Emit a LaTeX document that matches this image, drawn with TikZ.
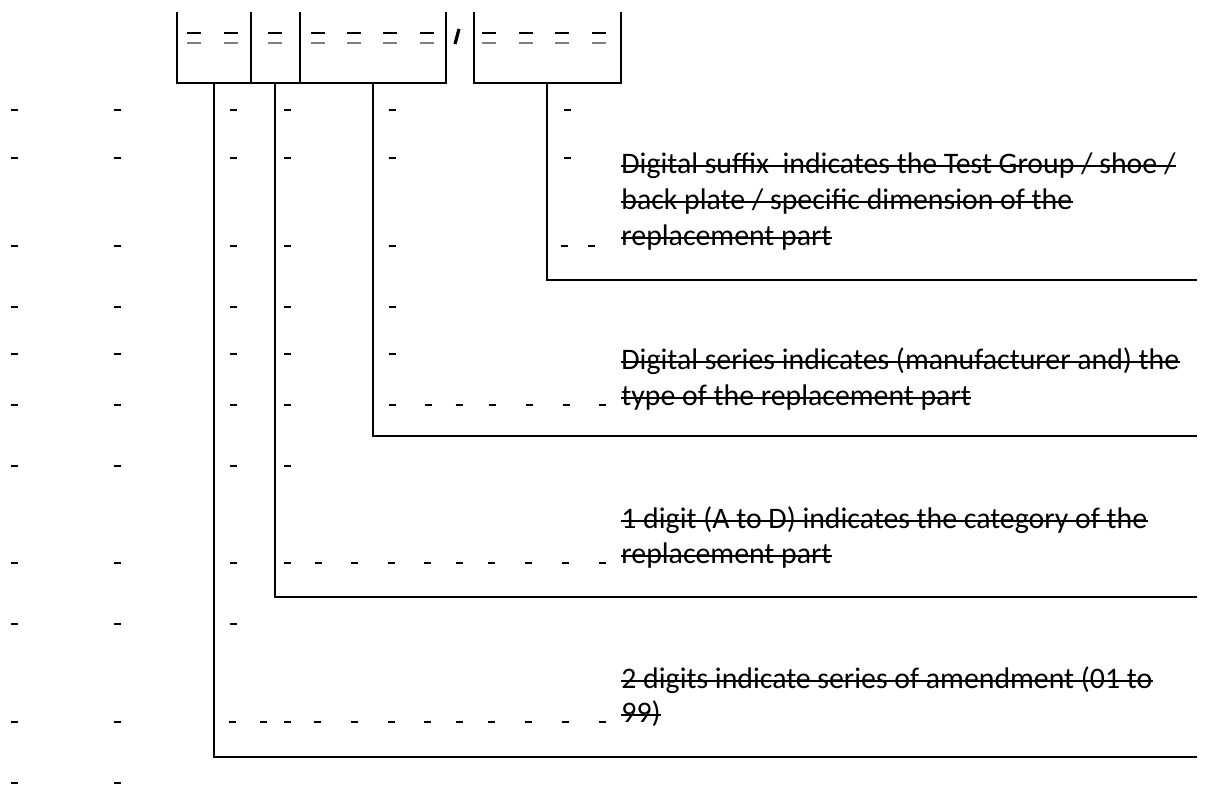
\documentclass[tikz,border=0pt]{standalone}
\usepackage{fontspec}
\setmainfont{Carlito}

\tikzset{
  frame/.style={line width=1pt},
  lead/.style={line width=1pt},
  blank/.style={line width=0.65pt},
  digit/.style={line width=0.7pt},
  strike/.style={line width=0.75pt},
  note/.style={anchor=base west, inner sep=0pt, font=\fontsize{14.9}{18}\selectfont},
}
\newcommand{\strikeout}[1]{\draw[strike] ([yshift=3.6pt]#1.base west) -- ([yshift=3.6pt]#1.base east);}

\begin{document}
\begin{tikzpicture}[x=0.5pt,y=-0.5pt]
\useasboundingbox (0,0) rectangle (1205,788);

% the number boxes
\draw[frame] (177,12) -- (177,83) -- (446,83) -- (446,12);
\draw[frame] (251,12) -- (251,83);
\draw[frame] (300,12) -- (300,83);
\draw[frame] (474,12) -- (474,83) -- (621,83) -- (621,12);
\draw[line width=1.6pt] (455,44) -- (459,29);

\foreach \x in {194,231,275,318,354,390,427,489,526,562,599} {
  \draw[digit] (\x-7,33) -- (\x+7,33);
  \draw[digit,gray] (\x-7,43) -- (\x+7,43);
}

% leaders
\coordinate (amd) at (214,83);
\coordinate (cat) at (275,83);
\coordinate (ser) at (373,83);
\coordinate (suf) at (547,83);
\coordinate (amdR) at (1197,757);
\coordinate (catR) at (1197,597);
\coordinate (serR) at (1197,436);
\coordinate (sufR) at (1197,280);
\draw[lead] (suf) |- (sufR);
\draw[lead] (ser) |- (serR);
\draw[lead] (cat) |- (catR);
\draw[lead] (amd) |- (amdR);

% empty struck-out spaces
\foreach \y/\xs in {110/{14,117,233,287,392,567}, 158/{14,117,233,287,392,567},
    246/{14,117,233,287,392,564,591}, 307/{14,117,233,287,392}, 354/{14,117,233,287,392},
    405/{14,117,233,287,392,428,459,492,529,566,602}, 466/{14,117,233,287},
    563/{14,117,233,287,318,354,391,427,459,491,528,565,602}, 624/{14,117,233},
    722/{14,117,232,263,287,317,354,391,427,459,491,528,565,602}, 783/{14,117}} {
  \foreach \x in \xs {
    \draw[blank] (\x-3.5,\y) -- (\x+3.5,\y);
  }
}

% texts
\node[note] (suf1) at (621,173) {Digital suffix~ indicates the Test Group / shoe /};
\node[note] (suf2) at (621,209) {back plate / specific dimension of the};
\node[note] (suf3) at (621,245) {replacement part};
\node[note] (ser1) at (621,369) {Digital series indicates (manufacturer and) the};
\node[note] (ser2) at (621,405) {type of the replacement part};
\node[note] (cat1) at (621,528) {1 digit (A to D) indicates the category of the};
\node[note] (cat2) at (621,563) {replacement part};
\node[note] (amd1) at (621,688) {2 digits indicate series of amendment (01 to};
\node[note] (amd2) at (621,722) {99)};
\foreach \n in {suf1,suf2,suf3,ser1,ser2,cat1,cat2,amd1,amd2} {
  \strikeout{\n}
}
\end{tikzpicture}
\end{document}
